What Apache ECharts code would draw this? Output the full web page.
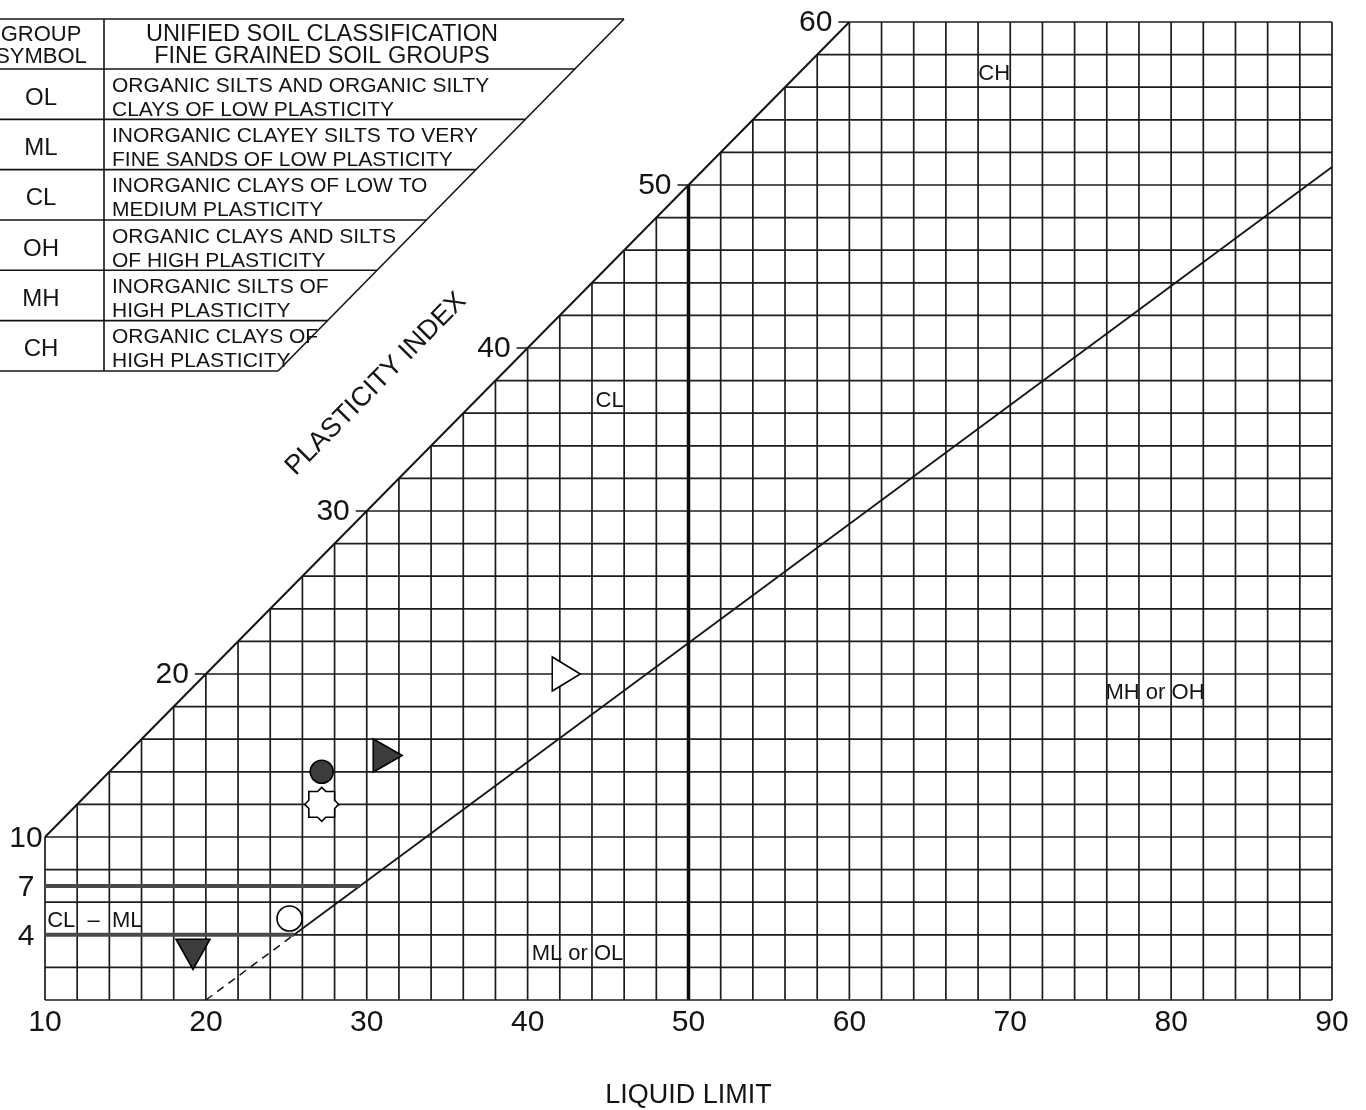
<!DOCTYPE html>
<html>
<head>
<meta charset="utf-8">
<script src="https://cdn.jsdelivr.net/npm/echarts@6/dist/echarts.min.js"></script>
<style>
  html, body { margin: 0; padding: 0; background: #fff; }
  #chart { width: 1366px; height: 1110px; }
</style>
</head>
<body>
<div id="chart"></div>
<script>
// ---- Plasticity chart: axes and ticks ----
const LL_MIN = 10, LL_MAX = 90, PI_MIN = 0, PI_MAX = 60;
const cellStep = 2;                         // chart paper cell size (LL and PI units)
const xTickLabels = [10, 20, 30, 40, 50, 60, 70, 80, 90];
const yTicksLeft = [4, 7, 10];              // labelled on the left edge
const yTicksDiag = [20, 30, 40, 50, 60];    // labelled along the PI = LL boundary

// ---- Classification lines ----
const upperBoundary = [[10, 10], [60, 60]];           // PI = LL
const aLineSolid = [[25.48, 4], [90, 51.1]];          // PI = 0.73 (LL - 20)
const aLineDashed = [[20, 0], [25.48, 4]];
const llDivider = [[50, 0], [50, 50]];                // LL = 50
const clmlLower = [[10, 4], [25.48, 4]];
const clmlUpper = [[10, 7], [29.59, 7]];

// ---- Test results ----
const sampleLL = [42.4, 31.3, 27.2, 27.2, 25.2, 19.2];
const samplePI = [20.0, 15.0, 14.0, 12.0, 5.0, 2.8];

// ---- Zone names ----
const zoneNames = ['CH', 'CL', 'MH or OH', 'ML or OL', 'CL  –  ML'];
const zoneLL = [69.0, 45.1, 79.0, 43.1, 13.1];
const zonePI = [56.9, 36.8, 18.9, 2.9, 4.9];

// ---- Legend table ----
const tableHeadLeft = ['GROUP', 'SYMBOL'];
const tableHeadRight = ['UNIFIED SOIL CLASSIFICATION', 'FINE GRAINED SOIL GROUPS'];
const groupSymbols = ['OL', 'ML', 'CL', 'OH', 'MH', 'CH'];
const groupLine1 = [
  'ORGANIC SILTS AND ORGANIC SILTY',
  'INORGANIC CLAYEY SILTS TO VERY',
  'INORGANIC CLAYS OF LOW TO',
  'ORGANIC CLAYS AND SILTS',
  'INORGANIC SILTS OF',
  'ORGANIC CLAYS OF'
];
const groupLine2 = [
  'CLAYS OF LOW PLASTICITY',
  'FINE SANDS OF LOW PLASTICITY',
  'MEDIUM PLASTICITY',
  'OF HIGH PLASTICITY',
  'HIGH PLASTICITY',
  'HIGH PLASTICITY'
];

// ---- styling ----
const FONT = "'Liberation Sans', Arial, Helvetica, sans-serif";
const INK = '#141414';
const octagram = 'path://M0,-16.5L4,-12.5L12.5,-12.5L12.5,-4L16.5,0L12.5,4L12.5,12.5L4,12.5L0,16.5L-4,12.5L-12.5,12.5L-12.5,4L-16.5,0L-12.5,-4L-12.5,-12.5L-4,-12.5Z';
const markerStyles = [
  { symbol: 'triangle', size: [34, 28], rotate: -90, fill: '#ffffff' },
  { symbol: 'triangle', size: [33, 29], rotate: -90, fill: '#3c3c3c' },
  { symbol: 'circle',   size: 23,       rotate: 0,   fill: '#3c3c3c' },
  { symbol: octagram,   size: 34,       rotate: 0,   fill: '#ffffff' },
  { symbol: 'circle',   size: 25,       rotate: 0,   fill: '#ffffff' },
  { symbol: 'triangle', size: [34, 30], rotate: 180, fill: '#3c3c3c' }
];

// chart paper: cells clipped to the region below PI = LL
const gridSegs = [];
for (let ll = LL_MIN; ll <= LL_MAX; ll += cellStep) {
  gridSegs.push([ll, PI_MIN, ll, Math.min(ll, PI_MAX)]);
}
for (let pi = PI_MIN; pi <= PI_MAX; pi += cellStep) {
  gridSegs.push([Math.max(LL_MIN, pi), pi, LL_MAX, pi]);
}

function lineSeries(data, width, color, type, z) {
  return {
    type: 'line', data: data, symbol: 'none', silent: true, animation: false,
    lineStyle: { width: width, color: color, type: type || 'solid', cap: 'butt' },
    z: z || 3
  };
}

const series = [];

series.push({
  type: 'custom', coordinateSystem: 'cartesian2d', data: gridSegs,
  silent: true, animation: false, z: 2,
  encode: { x: [0, 2], y: [1, 3] },
  renderItem: function (params, api) {
    const p1 = api.coord([api.value(0), api.value(1)]);
    const p2 = api.coord([api.value(2), api.value(3)]);
    return {
      type: 'line',
      shape: { x1: p1[0], y1: p1[1], x2: p2[0], y2: p2[1] },
      style: { stroke: '#1c1c1c', lineWidth: 1.7 }
    };
  }
});

series.push(lineSeries(upperBoundary, 2, INK));
series.push(lineSeries(aLineSolid, 1.8, INK));
series.push(lineSeries(aLineDashed, 1.5, INK, [8, 6]));
series.push(lineSeries(llDivider, 3.5, '#0a0a0a'));
series.push(lineSeries(clmlLower, 4, '#4a4a4a'));
series.push(lineSeries(clmlUpper, 4, '#4a4a4a'));

// PI tick labels
series.push({
  type: 'custom', coordinateSystem: 'cartesian2d',
  data: yTicksLeft.concat(yTicksDiag),
  silent: true, animation: false, z: 4,
  encode: { y: 0 },
  renderItem: function (params, api) {
    const v = api.value(0);
    if (v <= LL_MIN) {
      const p = api.coord([LL_MIN, v]);
      return {
        type: 'text', x: p[0] - 19, y: p[1] + 2,
        style: { text: String(v), fill: INK, fontSize: 30, fontFamily: FONT, align: 'center', verticalAlign: 'middle' }
      };
    }
    const p = api.coord([v, v]);
    return {
      type: 'group',
      children: [
        { type: 'line', shape: { x1: p[0] - 11, y1: p[1], x2: p[0], y2: p[1] }, style: { stroke: INK, lineWidth: 1.5 } },
        { type: 'text', x: p[0] - 17, y: p[1] + 1,
          style: { text: String(v), fill: INK, fontSize: 30, fontFamily: FONT, align: 'right', verticalAlign: 'middle' } }
      ]
    };
  }
});

// zone names
series.push({
  type: 'custom', coordinateSystem: 'cartesian2d',
  data: zoneNames.map(function (n, i) { return [zoneLL[i], zonePI[i]]; }),
  silent: true, animation: false, z: 5,
  renderItem: function (params, api) {
    const p = api.coord([api.value(0), api.value(1)]);
    return {
      type: 'text', x: p[0], y: p[1] + 1,
      style: { text: zoneNames[params.dataIndex], fill: INK, fontSize: 22, fontFamily: FONT, align: 'center', verticalAlign: 'middle' }
    };
  }
});

// test results
sampleLL.forEach(function (ll, i) {
  const m = markerStyles[i];
  series.push({
    type: 'scatter', data: [[ll, samplePI[i]]], silent: true, animation: false, z: 6,
    symbol: m.symbol, symbolSize: m.size, symbolRotate: m.rotate,
    itemStyle: { color: m.fill, borderColor: '#000', borderWidth: 1.6, opacity: 1 }
  });
});

// legend table (top left)
const T = { top: 19, head: 69, rowH: 50.33, divX: 104, diagTopX: 624, slope: 346 / 352 };
function diagX(y) { return T.diagTopX - (y - T.top) * T.slope; }
const tableEls = [];
const rowYs = [T.top, T.head];
for (let i = 1; i <= groupSymbols.length; i++) rowYs.push(T.head + i * T.rowH);
const tableBottom = rowYs[rowYs.length - 1];
rowYs.forEach(function (y) {
  tableEls.push({ type: 'line', shape: { x1: 0, y1: y, x2: diagX(y), y2: y }, style: { stroke: INK, lineWidth: 1.6 } });
});
tableEls.push({ type: 'line', shape: { x1: T.divX, y1: T.top, x2: T.divX, y2: tableBottom }, style: { stroke: INK, lineWidth: 1.6 } });
tableEls.push({ type: 'line', shape: { x1: diagX(T.top), y1: T.top, x2: diagX(tableBottom), y2: tableBottom }, style: { stroke: INK, lineWidth: 1.6 } });
function txt(s, x, y, size, align) {
  return { type: 'text', x: x, y: y, style: { text: s, fill: INK, fontSize: size, fontFamily: FONT, align: align || 'center', verticalAlign: 'middle' } };
}
tableEls.push(txt(tableHeadLeft[0], 41, 35, 22));
tableEls.push(txt(tableHeadLeft[1], 41, 57, 22));
tableEls.push(txt(tableHeadRight[0], 322, 35, 23.5));
tableEls.push(txt(tableHeadRight[1], 322, 57, 23.5));
groupSymbols.forEach(function (s, i) {
  const y0 = T.head + i * T.rowH;
  tableEls.push(txt(s, 41, y0 + 29, 24));
  tableEls.push(txt(groupLine1[i], 112, y0 + 17, 21, 'left'));
  tableEls.push(txt(groupLine2[i], 112, y0 + 41, 21, 'left'));
});

// y-axis title runs parallel to the PI = LL boundary
tableEls.push({
  type: 'text', x: 376, y: 384, rotation: Math.atan2(16.3, 16.09),
  style: { text: 'PLASTICITY INDEX', fill: INK, fontSize: 27, fontFamily: FONT, align: 'center', verticalAlign: 'middle' }
});

const chart = echarts.init(document.getElementById('chart'), null, { renderer: 'canvas' });
chart.setOption({
  animation: false,
  backgroundColor: '#ffffff',
  textStyle: { fontFamily: FONT },
  grid: { left: 45, top: 22, width: 1287, height: 978, containLabel: false, outerBoundsMode: 'none' },
  xAxis: {
    type: 'value', min: LL_MIN, max: LL_MAX, interval: 10,
    axisLine: { show: false }, axisTick: { show: false }, splitLine: { show: false },
    axisLabel: {
      fontSize: 30, color: INK, margin: 8, fontFamily: FONT,
      showMinLabel: true, showMaxLabel: true,
      formatter: function (v) { return xTickLabels.indexOf(v) >= 0 ? String(v) : ''; }
    },
    name: 'LIQUID LIMIT', nameLocation: 'middle', nameGap: 82,
    nameTextStyle: { fontSize: 27, color: INK, fontFamily: FONT }
  },
  yAxis: {
    type: 'value', min: PI_MIN, max: PI_MAX, interval: 10,
    axisLine: { show: false }, axisTick: { show: false }, splitLine: { show: false },
    axisLabel: { show: false }
  },
  graphic: { elements: tableEls },
  series: series
});
</script>
</body>
</html>
